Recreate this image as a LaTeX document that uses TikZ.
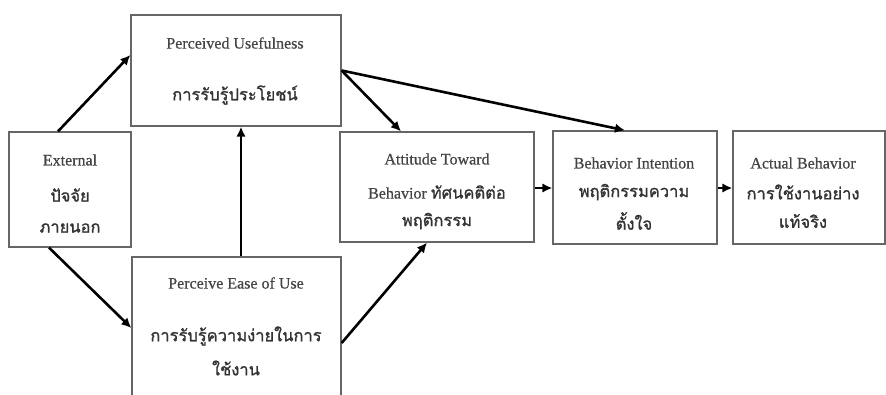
\documentclass[tikz,border=0pt]{standalone}
\usepackage{fontspec}
\setmainfont{Liberation Serif}
\newfontfamily\engfont[FakeBold=0.6]{Liberation Serif}
\newfontfamily\thaifont[Script=Thai,FakeBold=1.2]{Loma}
\usetikzlibrary{arrows.meta,calc}
\definecolor{boxgray}{HTML}{666666}
\definecolor{engtxt}{HTML}{444444}
\definecolor{thtxt}{HTML}{333333}
\tikzset{
  box/.style={draw=boxgray,line width=1.3pt,rectangle,inner sep=0pt},
  en/.style={text=engtxt,font=\engfont\fontsize{16}{18}\selectfont,inner sep=0pt,anchor=center},
  th/.style={text=thtxt,font=\thaifont\fontsize{16.5}{19}\selectfont,inner sep=0pt,anchor=center},
  arr/.style={line width=2.6pt,-{Latex[length=10pt,width=9.5pt]}}
}
\begin{document}
\begin{tikzpicture}[x=1pt,y=-1pt]
\clip (0,0) rectangle (886,394);
\fill[white] (0,0) rectangle (886,394);
% boxes
\node[box,minimum width=122pt,minimum height=115pt] (ext) at (70,189.5) {};
\node[box,minimum width=210pt,minimum height=111pt] (pu) at (236,70.5) {};
\node[box,minimum width=209pt,minimum height=162pt] (peou) at (236.5,338) {};
\node[box,minimum width=194pt,minimum height=110pt] (att) at (437,187) {};
\node[box,minimum width=164pt,minimum height=113pt] (bi) at (635,187.5) {};
\node[box,minimum width=152pt,minimum height=113pt] (ab) at (809,187.5) {};
% texts
\node[en] (t1) at (70,160) {External};
\node[th] (t2) at (70,195) {ปัจจัย};
\node[th] (t3) at (70,228) {ภายนอก};
\node[en] (t4) at (235,43) {Perceived Usefulness};
\node[th] (t5) at (235,95) {การรับรู้ประโยชน์};
\node[en] (t6) at (236,283) {Perceive Ease of Use};
\node[th] (t7) at (236,336) {การรับรู้ความง่ายในการ};
\node[th] (t8) at (236,368) {ใช้งาน};
\node[en] (t9) at (437,159) {Attitude Toward};
\node[en] (t10) at (437,192) {Behavior {\thaifont\color{thtxt}\fontsize{16.5}{19}\selectfont ทัศนคติต่อ}};
\node[th] (t11) at (437,221) {พฤติกรรม};
\node[en] (t12) at (634,163) {Behavior Intention};
\node[th] (t13) at (634,192) {พฤติกรรมความ};
\node[th] (t14) at (634,221) {ตั้งใจ};
\node[en] (t15) at (803,163) {Actual Behavior};
\node[th] (t16) at (803,192) {การใช้งานอย่าง};
\node[th] (t17) at (803,221) {แท้จริง};
% arrows
\draw[arr] ([xshift=-12pt]ext.north) -- ([yshift=15.5pt]pu.west);
\draw[arr] ([xshift=-21pt]ext.south) -- ([yshift=10pt]peou.west);
\draw[arr] ([xshift=4.5pt]peou.north) -- ([xshift=5pt]pu.south);
\draw[arr] (pu.east) -- ([xshift=-36pt]att.north);
\draw[arr] (pu.east) -- ([xshift=-10pt]bi.north);
\draw[arr] ([yshift=-5pt]peou.east) -- ([xshift=-10pt]att.south);
\draw[arr] ([yshift=-1pt]att.east) -- ([yshift=-0.5pt]bi.west);
\draw[arr] ([yshift=-0.5pt]bi.east) -- ([yshift=-0.5pt]ab.west);
\end{tikzpicture}
\end{document}
